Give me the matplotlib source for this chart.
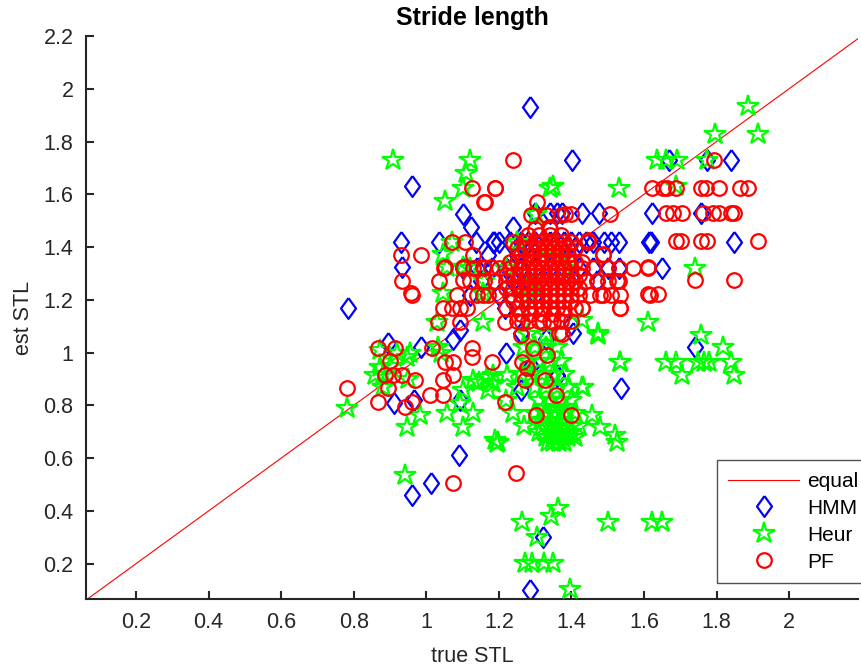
import matplotlib
matplotlib.use("Agg")
import matplotlib.pyplot as plt

plt.rcParams['font.family'] = ['Liberation Sans', 'DejaVu Sans']

# ---------------- data ----------------
equal_line = [0.0, 2.3]

hmm_x = [0.785, 1.287, 1.403, 0.96, 1.10, 1.124, 0.93, 1.036, 1.188, 1.138, 0.934,
         1.375, 1.43, 1.475, 1.623, 1.24, 1.185, 1.51, 1.53, 1.62, 1.49,
         1.668, 1.775, 1.84, 1.757, 1.615, 1.847, 1.65,
         1.74, 1.538, 0.96, 1.014, 1.09, 1.323, 1.287,
         0.91, 0.985, 0.895, 1.075, 1.094, 1.094, 0.967,
         1.405, 1.26, 1.36, 1.26, 1.218, 1.40, 1.36,
         1.20, 1.23, 1.26, 1.28, 1.30, 1.32, 1.34, 1.36, 1.38, 1.40, 1.42, 1.44, 1.46,
         1.30, 1.34, 1.36,
         1.10, 1.14, 1.18, 1.22, 1.26, 1.30, 1.34, 1.38, 1.42, 1.46, 1.50, 1.53,
         1.15, 1.24, 1.28, 1.47, 1.12, 1.20, 1.30, 1.17, 1.25, 1.22, 1.29, 1.33]
hmm_y = [1.17, 1.93, 1.73, 1.63, 1.525, 1.476, 1.42, 1.42, 1.42, 1.42, 1.325,
         1.53, 1.53, 1.53, 1.53, 1.477, 1.42, 1.42, 1.42, 1.42, 1.42,
         1.73, 1.73, 1.73, 1.53, 1.42, 1.42, 1.32,
         1.02, 0.866, 0.46, 0.505, 0.61, 0.30, 0.10,
         0.81, 1.02, 1.035, 1.05, 1.085, 0.82, 0.82,
         1.075, 1.075, 0.915, 0.86, 1.17, 1.11, 0.91,
         1.42, 1.42, 1.42, 1.42, 1.42, 1.42, 1.42, 1.42, 1.42, 1.42, 1.42, 1.42, 1.42,
         1.53, 1.53, 1.53,
         1.32, 1.32, 1.32, 1.32, 1.32, 1.32, 1.32, 1.32, 1.32, 1.32, 1.32, 1.32,
         1.27, 1.27, 1.27, 1.27, 1.22, 1.22, 1.22, 1.37, 1.37, 1.00, 0.95, 1.05]

heur_x = [0.909, 1.121, 1.11, 1.10, 1.052, 1.342, 1.53, 1.66, 1.692, 1.775,
          1.888, 1.913, 1.795, 1.687, 1.74, 1.303, 1.25, 1.637,
          1.07, 1.047, 1.058, 1.10, 1.047, 1.157,
          1.196, 0.942, 1.265, 1.364, 1.345, 1.306, 1.50, 1.623, 1.65,
          1.273, 1.292, 1.325, 1.35, 1.397, 1.335, 1.35, 1.365, 1.38, 1.527,
          1.612, 1.472, 1.535, 1.43, 1.458, 1.48, 1.52, 1.198, 1.157, 1.185, 1.223,
          1.145, 1.17,
          0.782, 1.03, 0.956, 0.86, 0.984, 0.948, 1.058, 1.094, 1.102, 1.13, 1.10,
          1.13, 1.168, 1.185, 1.19, 1.033, 1.04, 0.873, 0.873, 0.882, 0.948,
          1.43, 1.472, 1.757, 1.817, 1.84, 1.847, 1.535, 1.66, 1.687, 1.706,
          1.748, 1.765, 1.78, 1.433, 1.348,
          1.28, 1.33, 1.27, 1.30, 1.33, 1.36, 1.28, 1.31, 1.34, 1.37,
          1.29, 1.32, 1.35, 1.38, 1.30, 1.33, 1.36, 1.39, 1.31, 1.34, 1.37, 1.40,
          1.30, 1.33, 1.35, 1.38, 1.41, 1.32, 1.34, 1.36, 1.38, 1.40, 1.42,
          1.33, 1.35, 1.37, 1.39, 1.41, 1.26, 1.25, 1.22, 1.24, 1.27,
          1.22, 1.30, 1.35, 1.28, 1.38, 0.90, 0.92, 0.95, 0.88, 1.12, 1.16,
          1.315, 1.345, 1.375, 1.325, 1.355, 1.385, 1.31, 1.34, 1.37, 1.40]
heur_y = [1.73, 1.73, 1.68, 1.625, 1.575, 1.625, 1.625, 1.73, 1.73, 1.73,
          1.935, 1.83, 1.83, 1.63, 1.32, 1.525, 1.42, 1.73,
          1.42, 1.375, 1.325, 1.325, 1.225, 1.225,
          0.657, 0.535, 0.357, 0.41, 0.38, 0.30, 0.357, 0.357, 0.357,
          0.203, 0.203, 0.203, 0.203, 0.104, 0.66, 0.66, 0.66, 0.66, 0.66,
          1.115, 1.075, 0.965, 0.87, 0.763, 0.717, 0.688, 0.66, 1.115, 0.915, 0.915,
          0.89, 0.86,
          0.79, 1.115, 1.0, 0.915, 0.763, 0.717, 0.77, 0.81, 0.717, 0.77, 0.86,
          0.895, 0.907, 0.885, 0.668, 1.02, 1.0, 1.01, 0.945, 0.87, 0.985,
          1.123, 1.067, 1.067, 1.02, 0.965, 0.915, 0.965, 0.965, 0.965, 0.915,
          0.965, 0.965, 0.965, 0.87, 1.63,
          1.07, 1.07, 1.02, 1.02, 1.02, 1.02, 0.97, 0.97, 0.97, 0.97,
          0.92, 0.92, 0.92, 0.92, 0.87, 0.87, 0.87, 0.87, 0.82, 0.82, 0.82, 0.82,
          0.77, 0.77, 0.77, 0.77, 0.77, 0.72, 0.72, 0.72, 0.72, 0.72, 0.72,
          0.68, 0.68, 0.68, 0.68, 0.68, 0.92, 0.87, 0.82, 0.77, 0.72,
          1.32, 1.27, 1.37, 1.22, 1.32, 0.95, 1.00, 0.90, 0.92, 1.32, 1.27,
          0.745, 0.745, 0.745, 0.795, 0.795, 0.795, 0.70, 0.70, 0.70, 0.70]

pf_x = [1.24, 1.19, 1.163, 1.306, 1.337, 1.623, 1.507, 1.383, 1.40, 1.447, 1.486, 1.61,
        1.127, 1.19, 1.16, 0.93, 0.986, 0.934, 0.958, 1.036, 1.07, 1.108, 1.13,
        1.052, 1.10, 1.102, 1.157, 1.177,
        0.782, 0.868, 0.915, 0.90, 0.887, 0.909, 0.934, 0.895, 0.97, 0.868, 0.942,
        0.96, 1.011, 1.047, 1.017, 1.052, 1.075, 1.047, 1.075, 1.127, 1.127, 1.182,
        0.96, 1.047, 1.07, 1.094, 1.113, 1.094, 1.033, 1.085, 1.157,
        1.218, 1.218, 1.265, 1.26, 1.295, 1.333, 1.265, 1.278, 1.273, 1.328, 1.358,
        1.303, 1.40, 1.43, 1.535, 1.535, 1.618, 1.486, 1.367, 1.348, 1.323,
        1.075, 1.248,
        1.792, 1.652, 1.663, 1.687, 1.757, 1.77, 1.806, 1.866, 1.888,
        1.66, 1.681, 1.706, 1.762, 1.789, 1.806, 1.839, 1.847,
        1.687, 1.701, 1.757, 1.775, 1.913, 1.61, 1.742, 1.847,
        1.527, 1.612, 1.64, 1.535, 1.43, 1.375, 1.445, 1.486,
        1.24, 1.27, 1.30, 1.32, 1.34, 1.36, 1.38, 1.40,
        1.26, 1.29, 1.31, 1.33, 1.35, 1.37, 1.39,
        1.05, 1.10, 1.13, 1.16, 1.20, 1.23, 1.26, 1.28, 1.30, 1.32, 1.34, 1.36, 1.38,
        1.40, 1.43, 1.46, 1.50, 1.53, 1.57,
        1.12, 1.16, 1.19, 1.22, 1.25, 1.27, 1.29, 1.31, 1.33, 1.35, 1.37, 1.39, 1.41,
        1.44, 1.47, 1.50, 1.53,
        1.14, 1.17, 1.20, 1.23, 1.26, 1.28, 1.30, 1.32, 1.34, 1.36, 1.38, 1.40, 1.42,
        1.45, 1.48, 1.51,
        1.22, 1.25, 1.28, 1.30, 1.32, 1.34, 1.36, 1.38, 1.41,
        1.25, 1.28, 1.31, 1.34, 1.37, 1.40,
        1.30, 1.34, 1.29, 1.33, 1.37,
        1.25, 1.27, 1.29, 1.31, 1.33, 1.35, 1.37, 1.39, 1.41,
        1.23, 1.25, 1.27, 1.29, 1.31, 1.33, 1.35, 1.37, 1.39, 1.41, 1.43,
        1.22, 1.24, 1.26, 1.28, 1.30, 1.32, 1.34, 1.36, 1.38, 1.40, 1.42,
        1.22, 1.24, 1.26, 1.28, 1.30, 1.32, 1.34, 1.36, 1.38, 1.40, 1.42,
        1.24, 1.26, 1.28, 1.30, 1.32, 1.34, 1.36, 1.38, 1.40,
        1.26, 1.29, 1.32, 1.35, 1.38,
        1.28, 1.31, 1.34, 1.37]
pf_y = [1.73, 1.625, 1.57, 1.57, 1.477, 1.625, 1.525, 1.525, 1.525, 1.425, 1.37, 1.325,
        1.625, 1.625, 1.57, 1.37, 1.37, 1.27, 1.225, 1.27, 1.42, 1.42, 1.37,
        1.325, 1.325, 1.275, 1.325, 1.325,
        0.866, 1.017, 1.017, 0.97, 0.915, 0.915, 0.915, 0.866, 0.895, 0.813, 0.793,
        0.813, 0.84, 0.84, 1.017, 0.965, 0.965, 0.895, 0.915, 1.017, 0.985, 0.965,
        1.22, 1.17, 1.17, 1.17, 1.17, 1.115, 1.115, 1.22, 1.22,
        0.813, 1.115, 1.115, 1.067, 1.017, 0.99, 0.965, 0.94, 0.895, 0.895, 0.84,
        0.763, 0.763, 1.17, 1.17, 1.22, 1.22, 1.22, 1.075, 1.115, 1.115,
        0.505, 0.543,
        1.73, 1.625, 1.625, 1.625, 1.625, 1.625, 1.625, 1.625, 1.625,
        1.53, 1.53, 1.53, 1.53, 1.53, 1.53, 1.53, 1.53,
        1.423, 1.423, 1.423, 1.423, 1.423, 1.32, 1.275, 1.275,
        1.27, 1.222, 1.222, 1.17, 1.17, 1.07, 1.42, 1.375,
        1.42, 1.42, 1.42, 1.42, 1.42, 1.42, 1.42, 1.42,
        1.37, 1.37, 1.37, 1.37, 1.37, 1.37, 1.37,
        1.32, 1.32, 1.32, 1.32, 1.32, 1.32, 1.32, 1.32, 1.32, 1.32, 1.32, 1.32, 1.32,
        1.32, 1.32, 1.32, 1.32, 1.32, 1.32,
        1.27, 1.27, 1.27, 1.27, 1.27, 1.27, 1.27, 1.27, 1.27, 1.27, 1.27, 1.27, 1.27,
        1.27, 1.27, 1.27, 1.27,
        1.22, 1.22, 1.22, 1.22, 1.22, 1.22, 1.22, 1.22, 1.22, 1.22, 1.22, 1.22, 1.22,
        1.22, 1.22, 1.22,
        1.17, 1.17, 1.17, 1.17, 1.17, 1.17, 1.17, 1.17, 1.17,
        1.12, 1.12, 1.12, 1.12, 1.12, 1.12,
        1.47, 1.47, 1.52, 1.52, 1.52,
        1.395, 1.395, 1.395, 1.395, 1.395, 1.395, 1.395, 1.395, 1.395,
        1.345, 1.345, 1.345, 1.345, 1.345, 1.345, 1.345, 1.345, 1.345, 1.345, 1.345,
        1.295, 1.295, 1.295, 1.295, 1.295, 1.295, 1.295, 1.295, 1.295, 1.295, 1.295,
        1.245, 1.245, 1.245, 1.245, 1.245, 1.245, 1.245, 1.245, 1.245, 1.245, 1.245,
        1.195, 1.195, 1.195, 1.195, 1.195, 1.195, 1.195, 1.195, 1.195,
        1.145, 1.145, 1.145, 1.145, 1.145,
        1.445, 1.445, 1.445, 1.445]

x_ticks = [0.2, 0.4, 0.6, 0.8, 1.0, 1.2, 1.4, 1.6, 1.8, 2.0]
x_tick_labels = ['0.2', '0.4', '0.6', '0.8', '1', '1.2', '1.4', '1.6', '1.8', '2']
y_ticks = [0.2, 0.4, 0.6, 0.8, 1.0, 1.2, 1.4, 1.6, 1.8, 2.0, 2.2]
y_tick_labels = ['0.2', '0.4', '0.6', '0.8', '1', '1.2', '1.4', '1.6', '1.8', '2', '2.2']

# ---------------- figure ----------------
fig = plt.figure(figsize=(8.62, 6.70), dpi=100)
ax = fig.add_axes([86/862, 1 - 599/670, (858-86)/862, (599-36)/670])

diamond = [(0, 1), (0.72, 0), (0, -1), (-0.72, 0), (0, 1)]

ax.plot(equal_line, equal_line, color='red', lw=0.8, label='equal', zorder=1)
ax.plot(hmm_x, hmm_y, ls='none', marker=diamond, ms=15, mfc='none', mec='blue',
        mew=1.6, label='HMM', zorder=2)
ax.plot(heur_x, heur_y, ls='none', marker='*', ms=16, mfc='none', mec=(0, 1, 0),
        mew=1.6, label='Heur', zorder=3)
ax.plot(pf_x, pf_y, ls='none', marker='o', ms=10.5, mfc='none', mec='red',
        mew=1.6, label='PF', zorder=4)

ax.set_xlim(0.062, 2.19)
ax.set_ylim(0.066, 2.2)
ax.set_xticks(x_ticks)
ax.set_xticklabels(x_tick_labels)
ax.set_yticks(y_ticks)
ax.set_yticklabels(y_tick_labels)

dark = (0.15, 0.15, 0.15)
for s in ['top', 'right']:
    ax.spines[s].set_visible(False)
for s in ['left', 'bottom']:
    ax.spines[s].set_color(dark)
    ax.spines[s].set_linewidth(1.5)
ax.tick_params(direction='in', length=6, width=1.5, colors=dark, labelsize=15.5,
               pad=9)

ax.set_xlabel('true STL', fontsize=15.5, color=dark, labelpad=10)
ax.set_ylabel('est STL', fontsize=15.5, color=dark, labelpad=7)
ax.set_title('Stride length', fontsize=18, fontweight='bold', color='black', pad=8)

leg = ax.legend(loc='lower left', bbox_to_anchor=(717/862, 1 - 583/670),
                bbox_transform=fig.transFigure, fontsize=15, frameon=True,
                fancybox=False, edgecolor=dark, handlelength=3.4,
                labelspacing=0.38, borderaxespad=0.0, handletextpad=0.4,
                borderpad=0.55)
leg.get_frame().set_linewidth(1.0)

fig.savefig('out.png', dpi=100)
